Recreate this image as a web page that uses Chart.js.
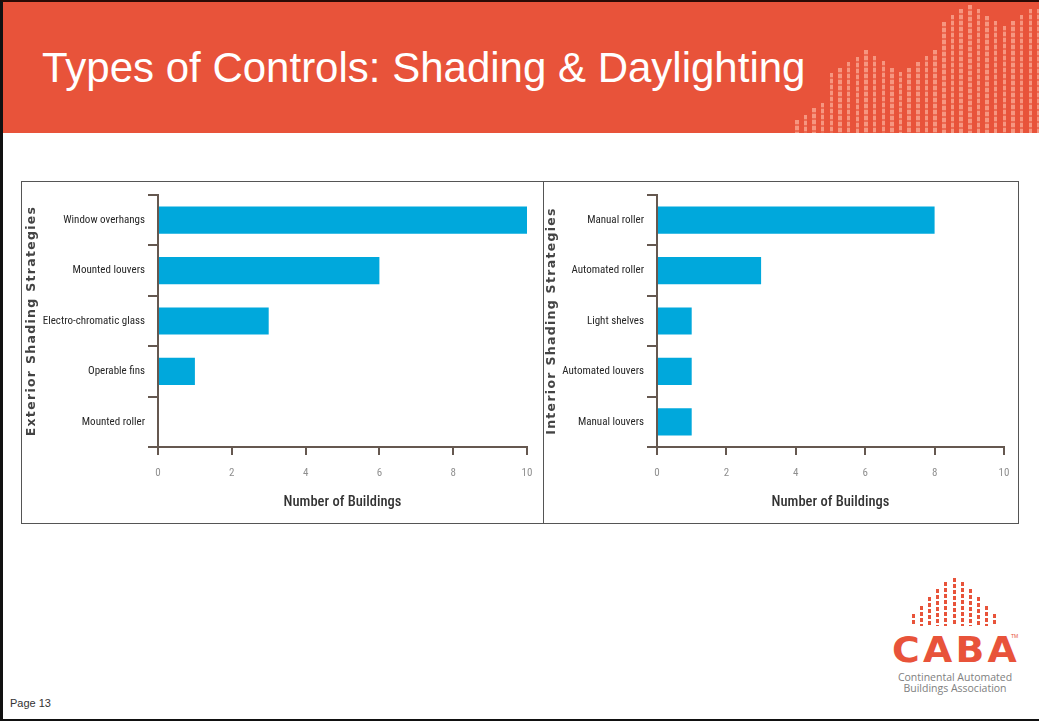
<!DOCTYPE html>
<html>
<head>
<meta charset="utf-8">
<script src="https://cdn.jsdelivr.net/npm/chart.js@4/dist/chart.umd.min.js"></script>
<style>
  html, body { margin: 0; padding: 0; background: #fff; }
  body { width: 1039px; height: 721px; position: relative; overflow: hidden; font-family: 'Liberation Sans', Arial, sans-serif; }
  #frame { position: absolute; left: 0; top: 0; width: 1039px; height: 721px; box-sizing: border-box; border-left: 3px solid #111; border-top: 2px solid #2a0a05; border-bottom: 2px solid #111; pointer-events: none; z-index: 5; }
  #header { position: absolute; left: 0; top: 0; width: 1039px; height: 133px; background: #E8533A; overflow: hidden; }
  #title { position: absolute; left: 42px; top: 44px; font-size: 42px; color: #fff; line-height: 48px; white-space: nowrap; }
  .deco { position: absolute; bottom: 0; width: 3.5px; background: repeating-linear-gradient(180deg, rgba(255,195,175,0.6) 0 4px, rgba(255,195,175,0.2) 4px 6px); }
  #panel { position: absolute; left: 21px; top: 181px; width: 998px; height: 343px; box-sizing: border-box; border: 1px solid #555; }
  #divider { position: absolute; left: 543px; top: 181px; width: 1px; height: 343px; background: #555; }
  #c1 { position: absolute; left: 22px; top: 182px; }
  #c2 { position: absolute; left: 544px; top: 182px; }
  #page { position: absolute; left: 10px; top: 697px; font-size: 11px; color: #333; }
  .ldot { position: absolute; width: 3px; background: repeating-linear-gradient(180deg, #E8533A 0 4px, rgba(0,0,0,0) 4px 6px); }
  #caba { position: absolute; left: 892px; top: 628px; font-family: 'DejaVu Sans', sans-serif; font-size: 35px; font-weight: bold; color: #E8533A; letter-spacing: 3px; line-height: 44px; transform: scaleX(1.08); transform-origin: 0 0; }
  #tm { position: absolute; left: 1011px; top: 633px; font-size: 5px; color: #E8533A; }
  #org { position: absolute; left: 890px; top: 672px; width: 130px; text-align: center; font-family: 'Open Sans', sans-serif; font-size: 10.5px; line-height: 11px; color: #808080; }
</style>
</head>
<body>
<div id="header"><div id="title">Types of Controls: Shading &amp; Daylighting</div></div>
<div id="panel"></div>
<div id="divider"></div>
<canvas id="c1" width="520" height="341"></canvas>
<canvas id="c2" width="474" height="341"></canvas>
<div id="page">Page 13</div>
<div id="caba">CABA</div>
<div id="tm">TM</div>
<div id="org">Continental Automated<br>Buildings Association</div>
<div id="frame"></div>
<script>
// ---- Chart data ----
const exteriorCategories = ['Window overhangs', 'Mounted louvers', 'Electro-chromatic glass', 'Operable fins', 'Mounted roller'];
const exteriorValues = [10, 6, 3, 1, 0];
const interiorCategories = ['Manual roller', 'Automated roller', 'Light shelves', 'Automated louvers', 'Manual louvers'];
const interiorValues = [8, 3, 1, 1, 1];
const xTickValues = [0, 2, 4, 6, 8, 10];
const exteriorAxisTitle = 'Exterior Shading Strategies';
const interiorAxisTitle = 'Interior Shading Strategies';
const xAxisTitle = 'Number of Buildings';

// ---- Decorative header columns (ornament only) ----
const decoTops = [120,115,108,103,73,68,62,57,50,56,61,68,72,68,62,56,50,22,15,9,5,9,16,21,26,21,15,9,9];
const header = document.getElementById('header');
decoTops.forEach((t, i) => {
  const d = document.createElement('div');
  d.className = 'deco';
  d.style.left = (795 + i * 8.65) + 'px';
  d.style.top = t + 'px';
  header.appendChild(d);
});
// ---- Logo columns (ornament only) ----
const logoTops = [614, 606, 597, 589, 582, 578, 582, 589, 597, 606, 614];
logoTops.forEach((t, i) => {
  const d = document.createElement('div');
  d.className = 'ldot';
  d.style.left = (912 + i * 8.1) + 'px';
  d.style.top = t + 'px';
  d.style.height = (626 - t) + 'px';
  document.body.appendChild(d);
});

const axisColor = '#655850';
const barColor = '#00A8DC';
const narrow = "'Roboto Condensed', 'DejaVu Sans', sans-serif";

function makeChart(id, cats, vals, yTitle, yWidth, rightPad, titlePadTop) {
  const chart = new Chart(document.getElementById(id), {
    type: 'bar',
    data: {
      labels: cats,
      datasets: [{ data: vals, backgroundColor: barColor, borderWidth: 0, barPercentage: 0.54, categoryPercentage: 1 }]
    },
    options: {
      indexAxis: 'y',
      responsive: false,
      animation: false,
      devicePixelRatio: 1,
      layout: { padding: { top: 13, right: rightPad, left: 0, bottom: 0 } },
      plugins: { legend: { display: false }, tooltip: { enabled: false } },
      scales: {
        x: {
          type: 'linear', min: 0, max: 10,
          afterBuildTicks: s => { s.ticks = xTickValues.map(v => ({ value: v })); },
          afterFit: s => { s.height = 76; s.paddingLeft = 0; s.paddingRight = 0; },
          grid: { drawOnChartArea: false, drawTicks: true, tickLength: 8, color: axisColor, lineWidth: 2 },
          border: { display: true, color: axisColor, width: 2 },
          ticks: { padding: 12, color: '#8f8f8f', font: { family: narrow, size: 11 } },
          title: { display: true, text: xAxisTitle, color: '#333', font: { family: narrow, size: 14.5, weight: '500' }, padding: { top: 0, bottom: 12 } }
        },
        y: {
          afterFit: s => { s.width = yWidth; s.paddingTop = 0; s.paddingBottom = 0; },
          grid: { offset: true, drawOnChartArea: false, drawTicks: true, tickLength: 10, color: axisColor, lineWidth: 2 },
          border: { display: true, color: axisColor, width: 2 },
          ticks: { padding: 3, color: '#262626', font: { family: narrow, size: 11, weight: '450' } },
          title: { display: true, text: yTitle, color: '#444', font: { family: "'DejaVu Sans', sans-serif", size: 12.5, weight: 'bold' }, padding: { top: titlePadTop, bottom: 0 } }
        }
      }
    }
  });
  // widen letter spacing of the rotated axis title, then redraw
  const ys = chart.scales.y;
  const origTitle = ys.drawTitle.bind(ys);
  ys.drawTitle = function () {
    const c = this.ctx;
    const prev = c.letterSpacing;
    c.letterSpacing = '1.3px';
    origTitle();
    c.letterSpacing = prev || '0px';
  };
  chart.draw();
  return chart;
}

makeChart('c1', exteriorCategories, exteriorValues, exteriorAxisTitle, 136, 15, 2);
makeChart('c2', interiorCategories, interiorValues, interiorAxisTitle, 113, 14, 0);
</script>
</body>
</html>
